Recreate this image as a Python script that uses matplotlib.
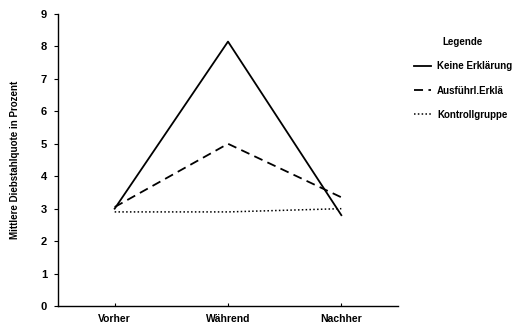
import matplotlib
matplotlib.use("Agg")
from matplotlib import pyplot as plt

phases = ["Vorher", "Während", "Nachher"]
keine = [3.0, 8.15, 2.8]
ausfuehrl = [3.05, 5.0, 3.35]
kontrolle = [2.9, 2.9, 3.0]
labels = ["Keine Erklärung", "Ausführl.Erklä", "Kontrollgruppe"]

plt.rcParams['font.family'] = ['Liberation Sans', 'DejaVu Sans']
plt.rcParams['font.weight'] = 'bold'

fig = plt.figure(figsize=(5.31, 3.27), dpi=100)
ax = fig.add_axes([58 / 531, 21 / 327, 340 / 531, 292 / 327])

x = range(len(phases))
ax.plot(x, keine, color='black', lw=1.3, ls='-', label=labels[0])
ax.plot(x, ausfuehrl, color='black', lw=1.3, ls=(0, (5, 3)), label=labels[1])
ax.plot(x, kontrolle, color='black', lw=1.1, ls=(0, (1, 1.5)), label=labels[2])

ax.set_xlim(-0.5, 2.5)
ax.set_ylim(0, 9)
ax.set_yticks(range(10))
ax.set_xticks(list(x))
ax.set_xticklabels(phases, fontsize=7.5, fontweight='bold')
ax.tick_params(axis='y', labelsize=8, length=3, width=0.8, direction='out', pad=5)
ax.tick_params(axis='x', length=2, width=0.8, direction='in', pad=6)
for lbl in ax.get_yticklabels():
    lbl.set_fontweight('bold')
ax.spines['top'].set_visible(False)
ax.spines['right'].set_visible(False)
ax.spines['left'].set_linewidth(1.0)
ax.spines['bottom'].set_linewidth(1.0)
ax.set_ylabel("Mittlere Diebstahlquote in Prozent", fontsize=7, fontweight='bold', labelpad=15)

leg = ax.legend(loc='upper left', bbox_to_anchor=(1.02, 0.95), frameon=False,
                title="Legende", fontsize=7, title_fontsize=7,
                handlelength=1.8, labelspacing=1.45, handletextpad=0.6)
leg.get_title().set_fontweight('bold')

fig.savefig("out.png", dpi=100)
